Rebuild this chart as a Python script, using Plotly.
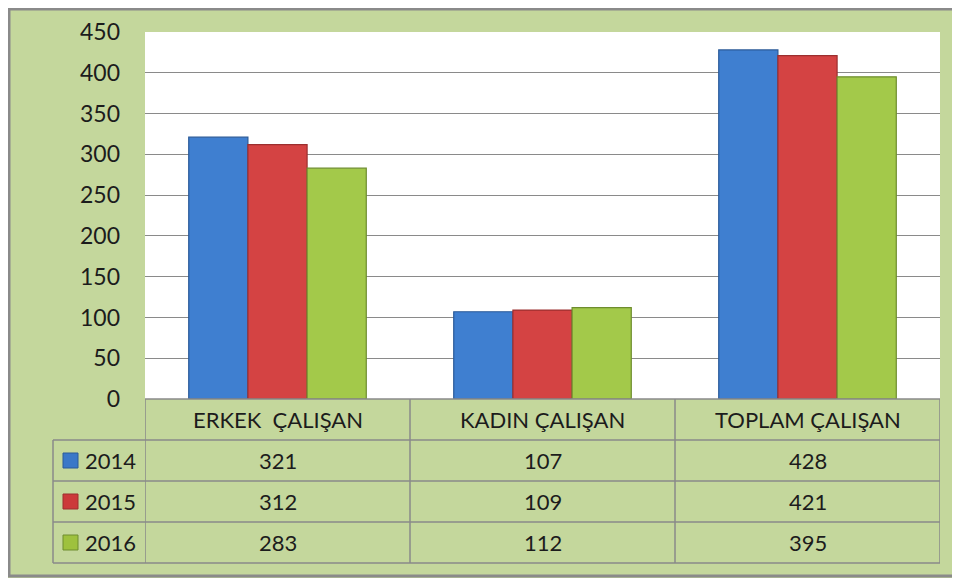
import plotly.graph_objects as go

categories = ["ERKEK  ÇALIŞAN", "KADIN ÇALIŞAN", "TOPLAM ÇALIŞAN"]
years = ["2014", "2015", "2016"]
values_2014 = [321, 107, 428]
values_2015 = [312, 109, 421]
values_2016 = [283, 112, 395]
y_ticks = [0, 50, 100, 150, 200, 250, 300, 350, 400, 450]

series = [values_2014, values_2015, values_2016]
fills = ["#3f7fd0", "#d44343", "#a3c94a"]
edges = ["#2a5a98", "#9c2f2f", "#6e8d2e"]
swatch = ["#3a78c8", "#cc3a3a", "#9ec13e"]

FONT = "Lato"
TXT = "#1c1c1c"
GRID = "#8a8a8a"
BG = "#c4d79c"

OFF = 8  # page body margin
W, H = 952, 570
ML, MT = 145 - OFF, 32 - OFF
MR = W - (940 - OFF)
MB = H - (563 - OFF)
plot_w = W - ML - MR
plot_h = H - MT - MB
row_px = 41
n_rows = 1 + len(years)
table_frac = n_rows * row_px / plot_h
row_frac = row_px / plot_h


def px_x(px):
    return (px - OFF - ML) / plot_w


def px_y(py):
    return 1 - (py - OFF - MT) / plot_h


fig = go.Figure()
for name, vals, fc, ec in zip(years, series, fills, edges):
    fig.add_trace(go.Bar(
        x=list(range(len(categories))), y=vals, name=name,
        marker=dict(color=fc, line=dict(color=ec, width=1.2)),
        hoverinfo="y",
    ))

shapes = []
annotations = []
line_style = dict(color=GRID, width=1.5)

# horizontal lines of the table
for r in range(n_rows + 1):
    yy = table_frac - r * row_frac
    if r == 0:
        shapes.append(dict(type="line", xref="x", yref="paper", x0=-0.5, x1=len(categories) - 0.5,
                           y0=yy, y1=yy, line=line_style))
    else:
        shapes.append(dict(type="line", xref="paper", yref="paper", x0=px_x(53), x1=1,
                           y0=yy, y1=yy, line=line_style))
# vertical lines of the table
for i in range(len(categories) + 1):
    shapes.append(dict(type="line", xref="x", yref="paper", x0=i - 0.5, x1=i - 0.5,
                       y0=0, y1=table_frac, line=line_style))
shapes.append(dict(type="line", xref="paper", yref="paper", x0=px_x(53), x1=px_x(53),
                   y0=0, y1=table_frac - row_frac, line=line_style))

tfont = dict(family=FONT, size=22, color=TXT)
# header texts
for i, c in enumerate(categories):
    annotations.append(dict(x=i, y=table_frac - row_frac / 2, xref="x", yref="paper",
                            xanchor="center", yanchor="middle",
                            text=c, showarrow=False, font=tfont))
# values + legend column
sq = 7.5 / plot_h
for r, (name, vals) in enumerate(zip(years, series)):
    yc = table_frac - row_frac * (r + 1.5)
    for i, v in enumerate(vals):
        annotations.append(dict(x=i, y=yc, xref="x", yref="paper", text=str(v), showarrow=False,
                                xanchor="center", yanchor="middle", font=tfont))
    annotations.append(dict(x=px_x(83), y=yc, xref="paper", yref="paper", text=name,
                            showarrow=False, xanchor="left", yanchor="middle", font=tfont))
    shapes.append(dict(type="rect", xref="paper", yref="paper", x0=px_x(63), x1=px_x(78),
                       y0=yc - sq, y1=yc + sq, fillcolor=swatch[r],
                       line=dict(color=edges[r], width=1)))

# outer border of the chart
shapes.append(dict(type="rect", xref="paper", yref="paper", layer="below",
                   x0=px_x(9), x1=px_x(1000), y0=px_y(576), y1=px_y(9),
                   line=dict(color="#8a8a8a", width=3)))

fig.update_layout(
    template="none",
    width=W, height=H,
    margin=dict(l=ML, r=MR, t=MT, b=MB, pad=0, autoexpand=False),
    paper_bgcolor=BG, plot_bgcolor="white",
    barmode="group", bargap=0.33, bargroupgap=0,
    showlegend=False,
    shapes=shapes, annotations=annotations,
    xaxis=dict(range=[-0.5, len(categories) - 0.5], showticklabels=False, showgrid=False,
               zeroline=False, ticks="", showline=False, automargin=False),
    yaxis=dict(domain=[table_frac, 1], range=[0, 450], tickvals=y_ticks, showgrid=True,
               gridcolor=GRID, gridwidth=1.3, zeroline=False, ticks="", showline=False,
               ticklabelstandoff=24, automargin=False,
               tickfont=dict(family=FONT, size=23, color=TXT)),
)

fig.write_html("out.html")
